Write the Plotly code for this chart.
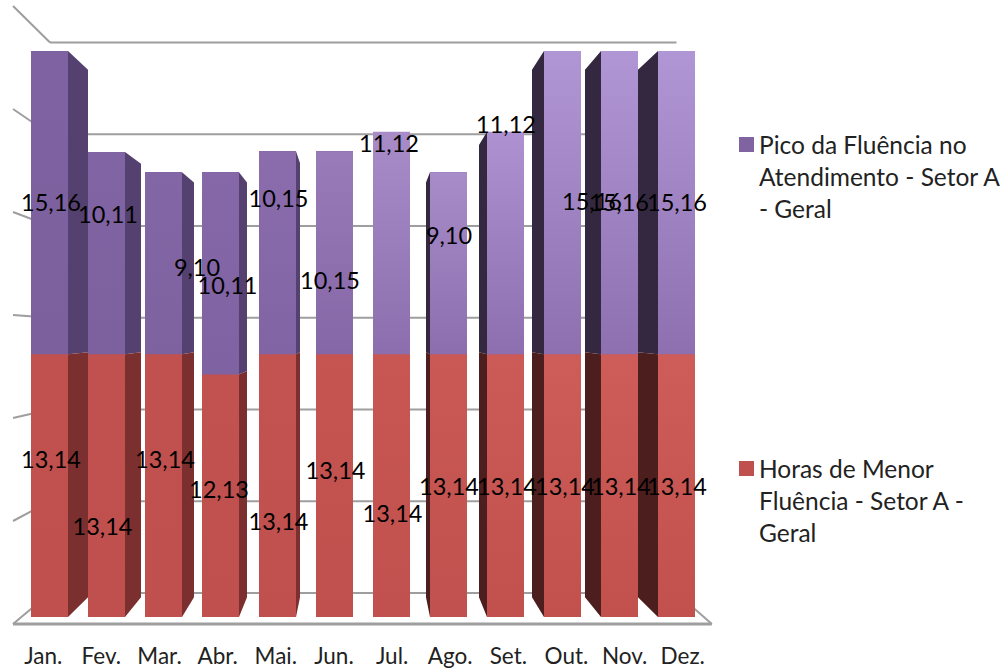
import plotly.graph_objects as go

# ---- data ----
months = ["Jan.", "Fev.", "Mar.", "Abr.", "Mai.", "Jun.", "Jul.", "Ago.", "Set.", "Out.", "Nov.", "Dez."]
menor = [13.14, 13.14, 13.14, 12.13, 13.14, 13.14, 13.14, 13.14, 13.14, 13.14, 13.14, 13.14]
pico = [15.16, 10.11, 9.10, 10.11, 10.15, 10.15, 11.12, 9.10, 11.12, 15.16, 15.16, 15.16]
grid_values = [0, 5, 10, 15, 20, 25, 30]
legend_pico = "Pico da Fluência no<br>Atendimento - Setor A<br>- Geral"
legend_menor = "Horas de Menor<br>Fluência - Setor A -<br>Geral"

# ---- styles ----
FONT = "Lato"
PURPLE_TOP = ["#7f62a1", "#8164a3", "#8366a5", "#8668a8", "#8b6dad", "#9a7bb9", "#a88cc8", "#a88cc9", "#ad91d1", "#b196d6", "#b196d6", "#b196d6"]
PURPLE_BOT = ["#7c5f9d", "#7d609e", "#7e619f", "#7f62a1", "#8164a4", "#8567a7", "#8c6eae", "#8c6eae", "#8d6faf", "#8e70b0", "#8e70b0", "#8e70b0"]
RED_TOP = ["#c0514e", "#c0514e", "#c1514e", "#c1524f", "#c35350", "#c65552", "#c85753", "#ca5955", "#cc5b57", "#ce5c58", "#ce5c58", "#ce5c58"]
RED_BOT = ["#bf504d", "#bf504d", "#bf504d", "#bf504d", "#c0504d", "#c0504d", "#c1514e", "#c1514e", "#c2514e", "#c2514e", "#c2514e", "#c2514e"]
SIDE_L = {"p": "#55416f", "r": "#7b302f"}
SIDE_R = {"p": "#33283f", "r": "#4c1e1d"}
GRID = "#9e9e9e"

PX_PER_CAT = 57.0
PX_PER_VAL = 20.0
BAR_W = 37 / PX_PER_CAT
DEPTH_X = 0.0702
DEPTH_Y = 0.068
VP_Y = 14.6
W, H = 1006.0, 669.0
PLOT_H = 640.0
x_range = [-49.5 / PX_PER_CAT, (W - 49.5) / PX_PER_CAT]
y_range = [(617 - PLOT_H) / PX_PER_VAL, 617 / PX_PER_VAL]

# hand-moved label offsets in the reference (px from the centre of each segment)
PICO_DX = [1.5, 1.5, 33.5, 7, 1, -4.5, -2.5, 0.5, 0.5, 29.5, -0.5, 0.5]
PICO_DY = [3, -36, 7, 15, -52, 30, -97, -25, -116, 2, 3, 3]
MENOR_DX = [1.5, -4, 1.5, -1.5, 1, 1, 1, 0.5, 1.5, 2.5, 1.5, 0.5]
MENOR_DY = [-23, 44, -23, -4, 39, -12, 31, 4, 4, 4, 4, 4]

idx = list(range(len(months)))
fig = go.Figure()

# real stacked bars
fig.add_bar(x=idx, y=menor, width=BAR_W, name="Horas de Menor Fluência - Setor A - Geral",
            marker=dict(color=RED_BOT, line_width=0), showlegend=False)
fig.add_bar(x=idx, y=pico, width=BAR_W, name="Pico da Fluência no Atendimento - Setor A - Geral",
            marker=dict(color=PURPLE_BOT, line_width=0), showlegend=False)


def back_y(v):
    return v + DEPTH_Y * (VP_Y - v)


def side(i, v0, v1):
    if i <= 5:
        e, dx = i + BAR_W / 2, DEPTH_X * (5 - i)
    else:
        e, dx = i - BAR_W / 2, DEPTH_X * (6 - i)
    return [e, e + dx, e + dx, e, e, None], [v0, back_y(v0), back_y(v1), v1, v0, None]


def add_side(ids, kind, color):
    xs, ys = [], []
    for i in ids:
        v0 = menor[i] if kind == "p" else 0
        v1 = menor[i] + pico[i] if kind == "p" else menor[i]
        a, b = side(i, v0, v1)
        xs += a
        ys += b
    fig.add_scatter(x=xs, y=ys, mode="lines", fill="toself", fillcolor=color, line_width=0,
                    hoverinfo="skip", showlegend=False)


left_ids = [i for i in idx if i < 5]
right_ids = [i for i in idx if i > 6]
for k in ("p", "r"):
    add_side(left_ids, k, SIDE_L[k])
    add_side(right_ids, k, SIDE_R[k])

# vertical shading on the front faces
for i in idx:
    x0, x1 = i - BAR_W / 2, i + BAR_W / 2
    for v0, v1, top, bot in ((0, menor[i], RED_TOP[i], RED_BOT[i]),
                             (menor[i], menor[i] + pico[i], PURPLE_TOP[i], PURPLE_BOT[i])):
        fig.add_scatter(x=[x0, x1, x1, x0, x0], y=[v0, v0, v1, v1, v0], mode="lines", fill="toself",
                        line_width=0, hoverinfo="skip", showlegend=False,
                        fillgradient=dict(type="vertical", colorscale=[[0, bot], [1, top]]))

# data labels
fmt = lambda v: f"{v:.2f}".replace(".", ",")
fig.add_scatter(x=[i + d / PX_PER_CAT for i, d in zip(idx, MENOR_DX)],
                y=[m / 2 - d / PX_PER_VAL for m, d in zip(menor, MENOR_DY)],
                text=[fmt(v) for v in menor], mode="text", textposition="middle center",
                textfont=dict(family=FONT, size=23.5, color="#000000"), hoverinfo="skip",
                showlegend=False, cliponaxis=False)
fig.add_scatter(x=[i + d / PX_PER_CAT for i, d in zip(idx, PICO_DX)],
                y=[m + p / 2 - d / PX_PER_VAL for m, p, d in zip(menor, pico, PICO_DY)],
                text=[fmt(v) for v in pico], mode="text", textposition="middle center",
                textfont=dict(family=FONT, size=23.5, color="#000000"), hoverinfo="skip",
                showlegend=False, cliponaxis=False)

# perspective walls: back plane, left wall, floor
FRONT_X = (-0.64, 11.62)
BACK_X = (0.009, 11.0)
front_v = lambda v: -0.35 + 1.03 * v
back_v = lambda v: 1.2 + 0.9175 * v
line = dict(color=GRID, width=2)
shapes = []
for v in grid_values:
    shapes.append(dict(type="line", xref="x", yref="y", layer="below", line=line,
                       x0=BACK_X[0], x1=BACK_X[1], y0=back_v(v), y1=back_v(v)))
    shapes.append(dict(type="line", xref="x", yref="y", layer="below", line=line,
                       x0=FRONT_X[0], x1=BACK_X[0], y0=front_v(v), y1=back_v(v)))
shapes.append(dict(type="line", xref="x", yref="y", layer="below", line=dict(color=GRID, width=3),
                   x0=FRONT_X[0], x1=FRONT_X[1], y0=front_v(0), y1=front_v(0)))
shapes.append(dict(type="line", xref="x", yref="y", layer="below", line=line,
                   x0=FRONT_X[1], x1=BACK_X[1], y0=front_v(0), y1=back_v(0)))

# legend swatches and text
def lx(px):
    return px / W
def ly(py):
    return 1 - py / PLOT_H
for top, color in ((137, "#8064a2"), (461, "#c0504d")):
    shapes.append(dict(type="rect", xref="paper", yref="paper", x0=lx(739), x1=lx(754),
                       y0=ly(top + 15), y1=ly(top), fillcolor=color, line_width=0))
annotations = [
    dict(text=t, xref="paper", yref="paper", x=lx(757), y=ly(py), xanchor="left", yanchor="middle",
         align="left", showarrow=False, font=dict(family=FONT, size=24.5, color="#222222"))
    for t, py in ((legend_pico, 176), (legend_menor, 500))
]

fig.update_layout(
    width=1006, height=669, margin=dict(l=0, r=0, t=0, b=H - PLOT_H, pad=0),
    paper_bgcolor="white", plot_bgcolor="white", barmode="stack", showlegend=False,
    shapes=shapes, annotations=annotations,
    xaxis=dict(range=x_range, showgrid=False, zeroline=False, showline=False, ticks="",
               tickmode="array", tickvals=[5.5 + (i - 5.5) * 1.02 for i in idx], ticktext=months,
               tickfont=dict(family=FONT, size=22.5, color="#222222")),
    yaxis=dict(range=y_range, showgrid=False, zeroline=False, showline=False, showticklabels=False),
)

fig.write_html("out.html", config={"displayModeBar": False},
               post_script="document.body.style.margin='0';document.body.style.overflow='hidden';")
